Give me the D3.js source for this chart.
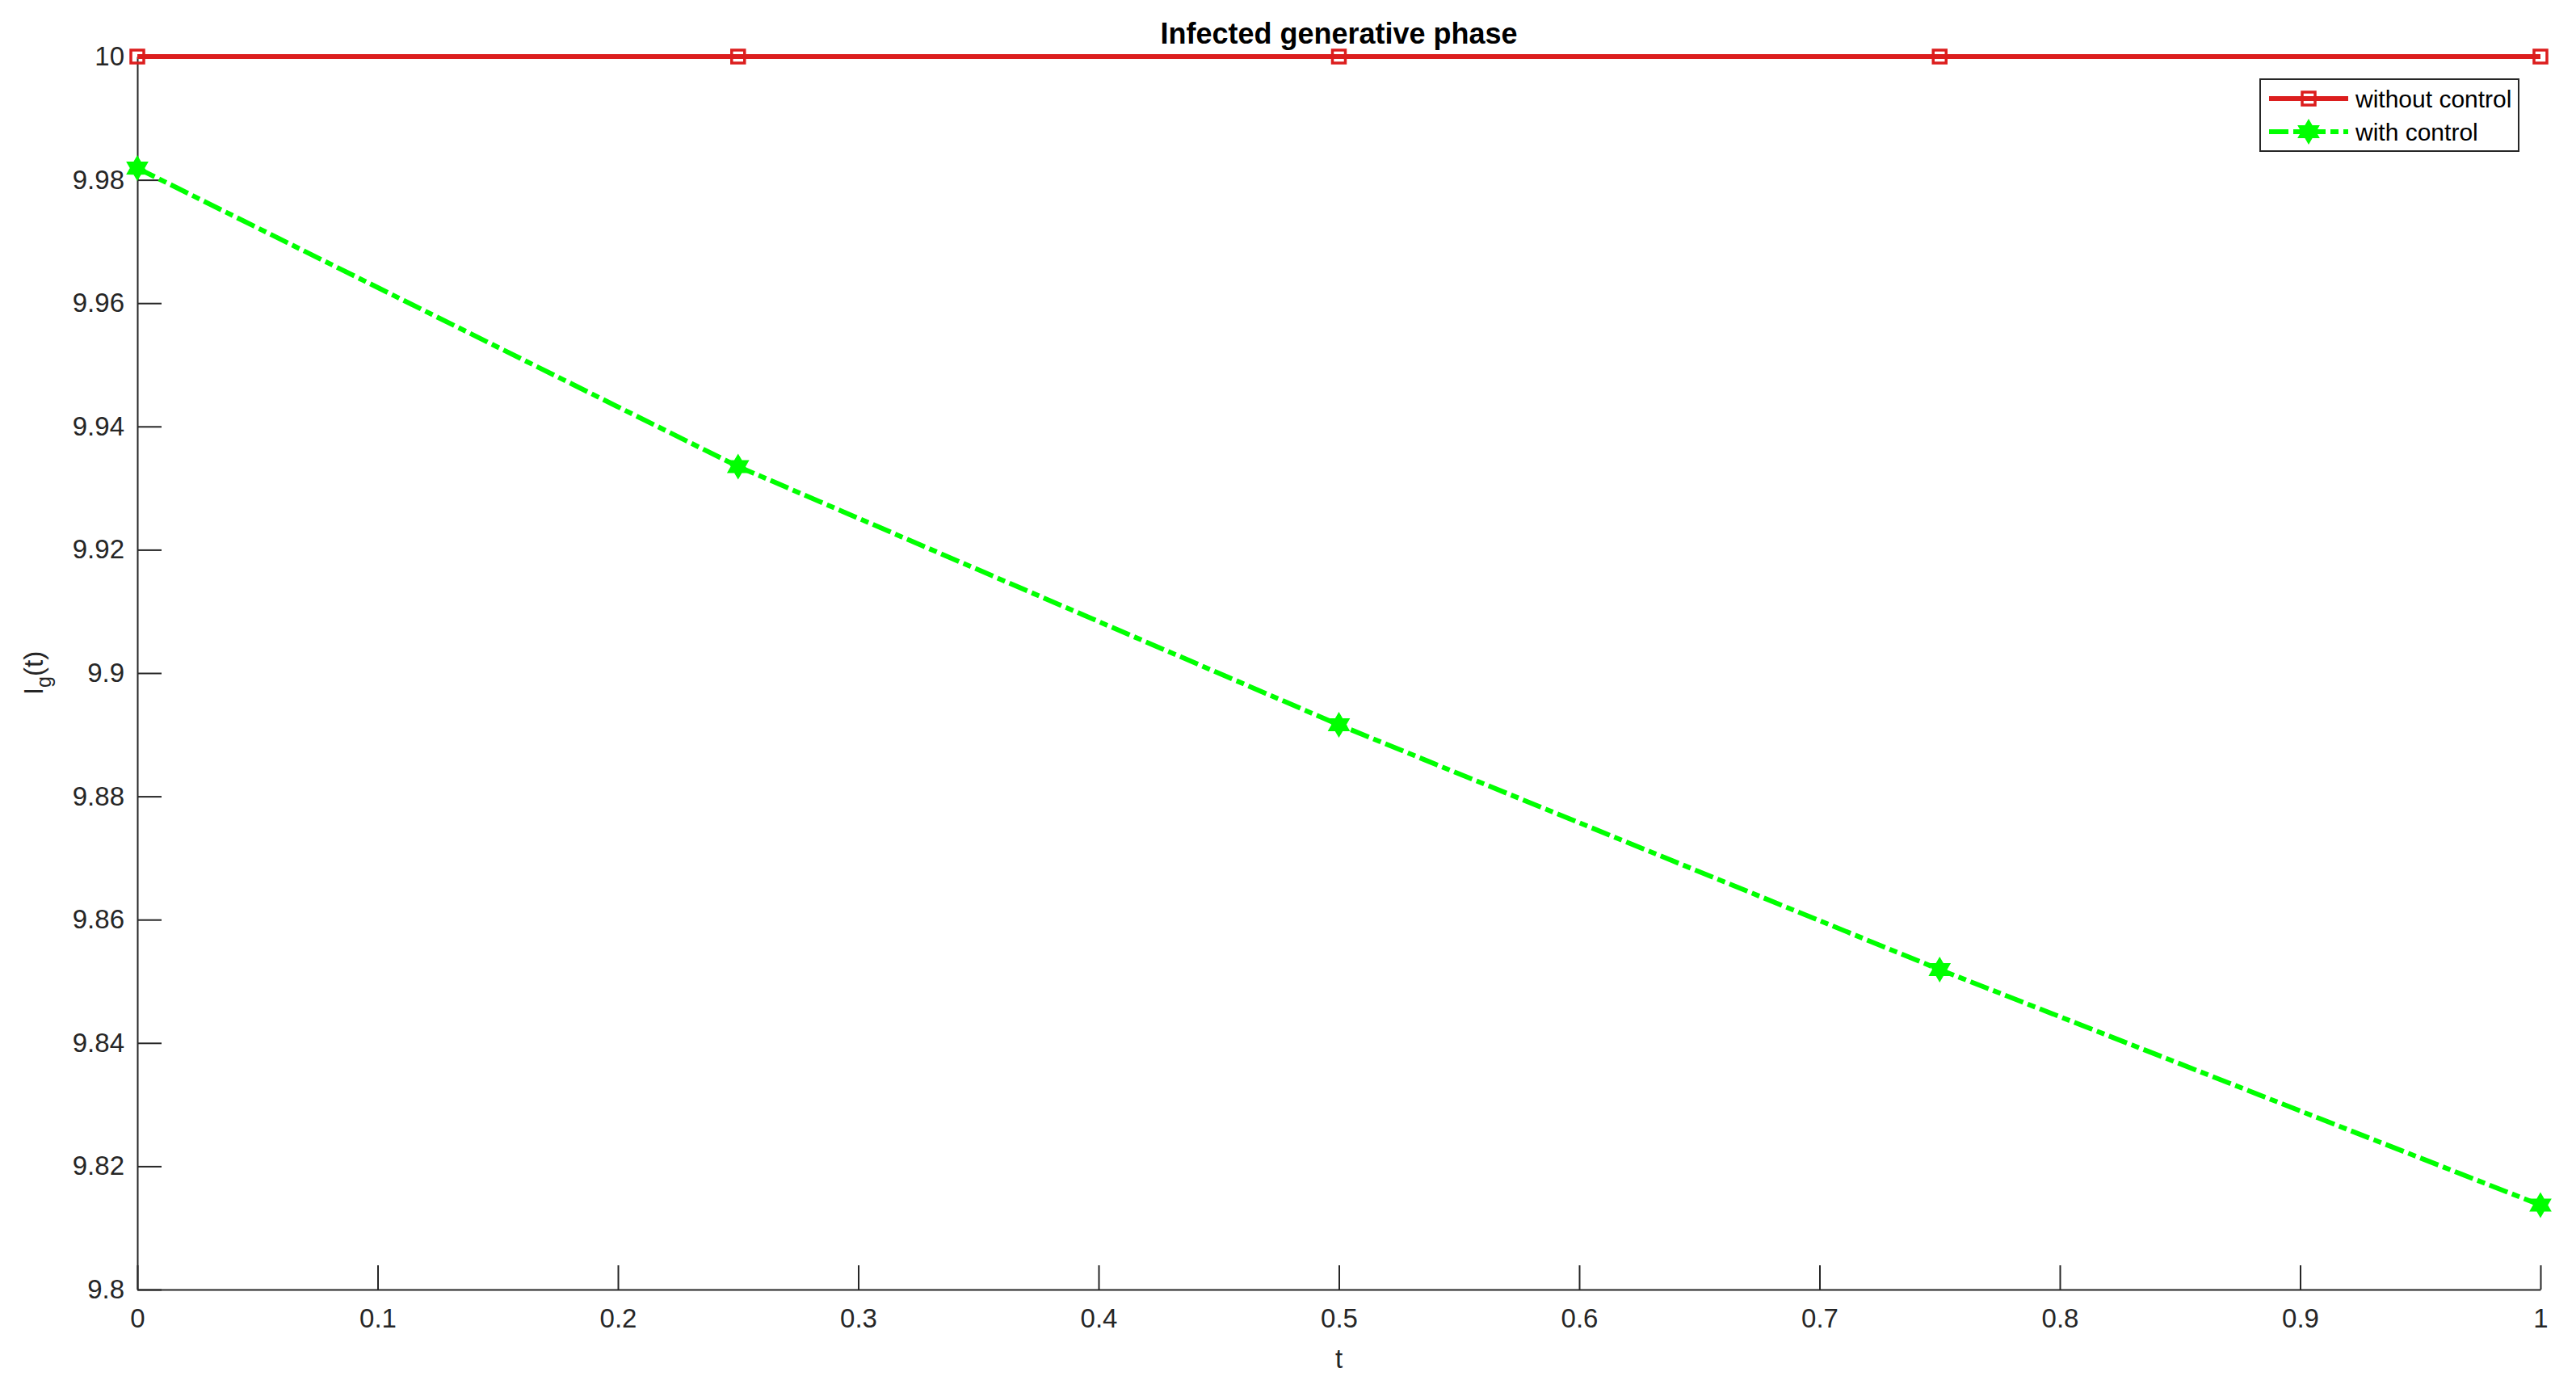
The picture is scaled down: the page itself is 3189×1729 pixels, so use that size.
<!DOCTYPE html>
<html>
<head>
<meta charset="utf-8">
<script src="https://cdn.jsdelivr.net/npm/d3@7"></script>
<style>
html,body{margin:0;padding:0;background:#fff;}
svg text{font-family:"Liberation Sans",Arial,Helvetica,sans-serif;}
</style>
</head>
<body>
<svg id="chart" width="3189" height="1729"></svg>
<script>
const tValues = [0, 0.25, 0.5, 0.75, 1];
const withoutControl = [10, 10, 10, 10, 10];
const withControl = [9.9819, 9.9335, 9.8916, 9.8519, 9.8137];
const xTicks = [0, 0.1, 0.2, 0.3, 0.4, 0.5, 0.6, 0.7, 0.8, 0.9, 1];
const yTicks = [9.8, 9.82, 9.84, 9.86, 9.88, 9.9, 9.92, 9.94, 9.96, 9.98, 10];
const seriesNames = ["without control", "with control"];
const titleText = "Infected generative phase";

const svg = d3.select("#chart");
const m = {left: 170, right: 3145, top: 70, bottom: 1596};
const x = d3.scaleLinear().domain([0, 1]).range([m.left, m.right]);
const y = d3.scaleLinear().domain([9.8, 10]).range([m.bottom, m.top]);

const fontSize = 33;
const tickLen = 30;
const axisColor = "#262626";

// X axis
const xAxis = d3.axisBottom(x).tickValues(xTicks).tickSizeInner(-tickLen).tickSizeOuter(0)
  .tickPadding(24).tickFormat(d => d3.format("~g")(d));
const gx = svg.append("g").attr("transform", `translate(0,${m.bottom})`).call(xAxis);
gx.select(".domain").attr("stroke", axisColor).attr("stroke-width", 2);
gx.selectAll(".tick line").attr("stroke", axisColor).attr("stroke-width", 2);
gx.selectAll(".tick text").attr("font-size", fontSize).attr("fill", axisColor)
  .attr("font-family", "Liberation Sans, Arial, sans-serif");

// Y axis
const yAxis = d3.axisLeft(y).tickValues(yTicks).tickSizeInner(-tickLen).tickSizeOuter(0)
  .tickPadding(16).tickFormat(d => d3.format("~g")(d));
const gy = svg.append("g").attr("transform", `translate(${m.left},0)`).call(yAxis);
gy.select(".domain").attr("stroke", axisColor).attr("stroke-width", 2);
gy.selectAll(".tick line").attr("stroke", axisColor).attr("stroke-width", 2);
gy.selectAll(".tick text").attr("font-size", fontSize).attr("fill", axisColor)
  .attr("font-family", "Liberation Sans, Arial, sans-serif");

// Title
svg.append("text").attr("x", (m.left + m.right) / 2).attr("y", 54)
  .attr("text-anchor", "middle").attr("font-size", 36).attr("font-weight", "bold")
  .attr("fill", "#000").text(titleText);

// X label
svg.append("text").attr("x", (m.left + m.right) / 2).attr("y", 1693)
  .attr("text-anchor", "middle").attr("font-size", fontSize).attr("fill", axisColor).text("t");

// Y label
const yl = svg.append("text").attr("transform", `translate(53,${(m.top + m.bottom) / 2}) rotate(-90)`)
  .attr("text-anchor", "middle").attr("font-size", fontSize).attr("fill", axisColor);
yl.append("tspan").text("I");
yl.append("tspan").attr("dy", 10).attr("font-size", 25).text("g");
yl.append("tspan").attr("dy", -10).text("(t)");

const red = "#dc1e1e";
const green = "#00ff00";
const dash = "24,6,10,6";
const line = d3.line().x(d => x(d[0])).y(d => y(d[1]));
const redData = tValues.map((t, i) => [t, withoutControl[i]]);
const greenData = tValues.map((t, i) => [t, withControl[i]]);

function hexagram(r) {
  const pts = [];
  for (let k = 0; k < 12; k++) {
    const a = -Math.PI / 2 + k * Math.PI / 6;
    const rr = k % 2 === 0 ? r : r * 0.58;
    pts.push([rr * Math.cos(a), rr * Math.sin(a)]);
  }
  return "M" + pts.map(p => p.join(",")).join("L") + "Z";
}

// red series
svg.append("path").datum(redData).attr("d", line).attr("fill", "none")
  .attr("stroke", red).attr("stroke-width", 6);
svg.selectAll(".rm").data(redData).enter().append("rect")
  .attr("x", d => x(d[0]) - 8).attr("y", d => y(d[1]) - 8)
  .attr("width", 16).attr("height", 16).attr("fill", "none")
  .attr("stroke", red).attr("stroke-width", 3.5);

// green series
svg.append("path").datum(greenData).attr("d", line).attr("fill", "none")
  .attr("stroke", green).attr("stroke-width", 6).attr("stroke-dasharray", dash);
svg.selectAll(".gm").data(greenData).enter().append("path")
  .attr("transform", d => `translate(${x(d[0])},${y(d[1])})`)
  .attr("d", hexagram(14)).attr("fill", green).attr("stroke", green).attr("stroke-width", 2);

// Legend
const lg = svg.append("g");
lg.append("rect").attr("x", 2798).attr("y", 98).attr("width", 320).attr("height", 89)
  .attr("fill", "#fff").attr("stroke", axisColor).attr("stroke-width", 2);
const rows = [122, 163];
lg.append("line").attr("x1", 2809).attr("x2", 2907).attr("y1", rows[0]).attr("y2", rows[0])
  .attr("stroke", red).attr("stroke-width", 6);
lg.append("rect").attr("x", 2858 - 8).attr("y", rows[0] - 8).attr("width", 16).attr("height", 16)
  .attr("fill", "none").attr("stroke", red).attr("stroke-width", 3.5);
lg.append("line").attr("x1", 2809).attr("x2", 2907).attr("y1", rows[1]).attr("y2", rows[1])
  .attr("stroke", green).attr("stroke-width", 6).attr("stroke-dasharray", dash);
lg.append("path").attr("transform", `translate(2858,${rows[1]})`).attr("d", hexagram(14))
  .attr("fill", green).attr("stroke", green).attr("stroke-width", 2);
seriesNames.forEach((n, i) => {
  lg.append("text").attr("x", 2916).attr("y", rows[i] + 11).attr("font-size", 30)
    .attr("fill", "#000").text(n);
});
</script>
</body>
</html>
